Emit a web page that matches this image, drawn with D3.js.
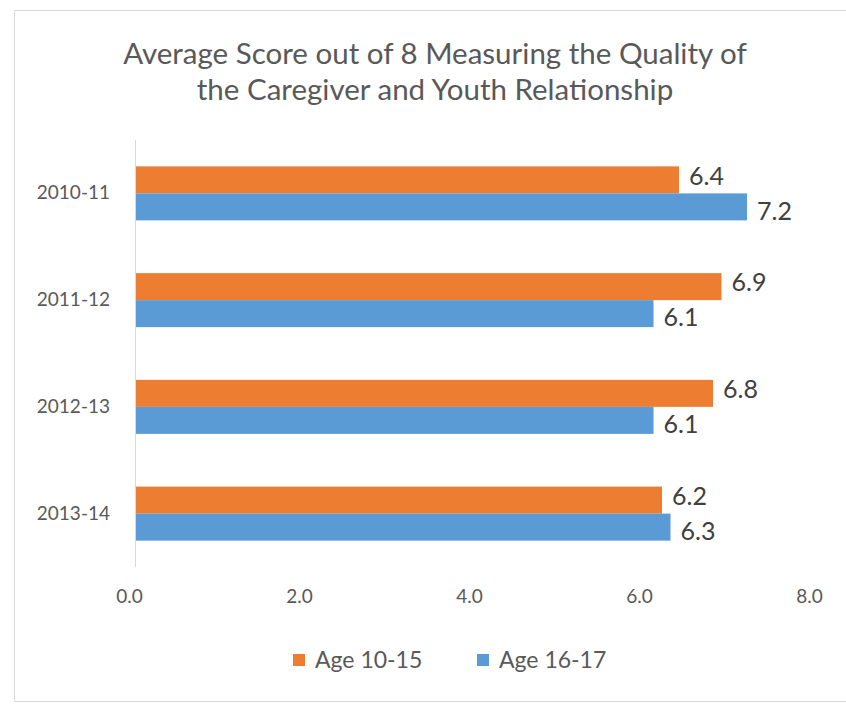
<!DOCTYPE html>
<html lang="en">
<head>
<meta charset="utf-8" />
<title>Caregiver and Youth Relationship</title>
<style>
  body { margin: 0; background: #fff; }
  svg { display: block; font-family: Lato, "Open Sans", sans-serif; }
  .title { fill: #595959; font-size: 29.5px; text-anchor: middle; }
  .tick-label { fill: #595959; font-size: 19px; }
  .value { fill: #404040; font-size: 25px; }
  .legend text { fill: #595959; font-size: 23px; }
</style>
</head>
<body>
<div id="chart"></div>
<script src="https://d3js.org/d3.v7.min.js"></script>
<script>
var categories = ['2010-11', '2011-12', '2012-13', '2013-14'];
var series = ['Age 10-15', 'Age 16-17'];
var age1015 = [6.4, 6.9, 6.8, 6.2];
var age1617 = [7.2, 6.1, 6.1, 6.3];
var xTicks = [0, 2, 4, 6, 8];
var colors = ['#ED7D31', '#5B9BD5'];

var width = 846, height = 704;

var svg = d3.select('#chart').append('svg')
    .attr('width', width)
    .attr('height', height);

svg.append('rect')
   .attr('width', width).attr('height', height)
   .attr('fill', '#fff');

// outer border of the chart area
svg.append('rect')
   .attr('x', 14.5).attr('y', 10.5)
   .attr('width', width).attr('height', 691)
   .attr('fill', 'none')
   .attr('stroke', '#d9d9d9');

// title
var title = svg.append('text').attr('class', 'title');
title.append('tspan').attr('x', 435).attr('y', 64)
     .text('Average Score out of 8 Measuring the Quality of');
title.append('tspan').attr('x', 435).attr('y', 100)
     .text('the Caregiver and Youth Relationship');

var x = d3.scaleLinear().domain([0, 8]).range([135, 815]);
var y = d3.scaleBand().domain(categories).range([140, 567])
          .paddingInner(0.494).paddingOuter(0.247);
var ySub = d3.scaleBand().domain(series).range([0, y.bandwidth()]);

var rows = categories.map(function(c, i) {
  return { cat: c, values: [
    { s: series[0], v: age1015[i], color: colors[0] },
    { s: series[1], v: age1617[i], color: colors[1] }
  ]};
});

// x tick labels (no grid lines)
var xAxis = d3.axisBottom(x).tickValues(xTicks)
              .tickFormat(d3.format('.1f')).tickSize(0).tickPadding(23);
var gx = svg.append('g').attr('transform', 'translate(-6,567)').call(xAxis)
            .attr('font-family', null).attr('font-size', null);
gx.select('.domain').remove();
gx.selectAll('text').attr('class', 'tick-label');

// y axis
var yAxis = d3.axisLeft(y).tickSize(0).tickPadding(25);
var gy = svg.append('g').attr('transform', 'translate(135,0)').call(yAxis)
            .attr('font-family', null).attr('font-size', null);
gy.select('.domain').attr('stroke', '#d9d9d9').attr('d', 'M0.5,140V567');
gy.selectAll('text').attr('class', 'tick-label');

var groups = svg.selectAll('.group').data(rows).enter().append('g')
    .attr('class', 'group')
    .attr('transform', function(d) { return 'translate(0,' + y(d.cat) + ')'; });

groups.selectAll('rect').data(function(d) { return d.values; }).enter().append('rect')
    .attr('x', x(0) + 1)
    .attr('y', function(d) { return ySub(d.s); })
    .attr('width', function(d) { return x(d.v) - x(0) - 1; })
    .attr('height', ySub.bandwidth())
    .attr('fill', function(d) { return d.color; });

groups.selectAll('.value').data(function(d) { return d.values; }).enter().append('text')
    .attr('class', 'value')
    .attr('x', function(d) { return x(d.v) + 10; })
    .attr('y', function(d, i) { return ySub(d.s) + ySub.bandwidth() / 2 + (i === 0 ? -4 : 4); })
    .attr('dy', '0.35em')
    .text(function(d) { return d3.format('.1f')(d.v); });

// legend
var legendX = [293, 477];
var legend = svg.append('g').attr('class', 'legend');
var items = legend.selectAll('g').data(series).enter().append('g')
    .attr('transform', function(d, i) { return 'translate(' + legendX[i] + ',654)'; });
items.append('rect').attr('width', 12).attr('height', 12)
    .attr('fill', function(d, i) { return colors[i]; });
items.append('text').attr('x', 22).attr('y', 6).attr('dy', '0.35em')
    .text(function(d) { return d; });
</script>
</body>
</html>
